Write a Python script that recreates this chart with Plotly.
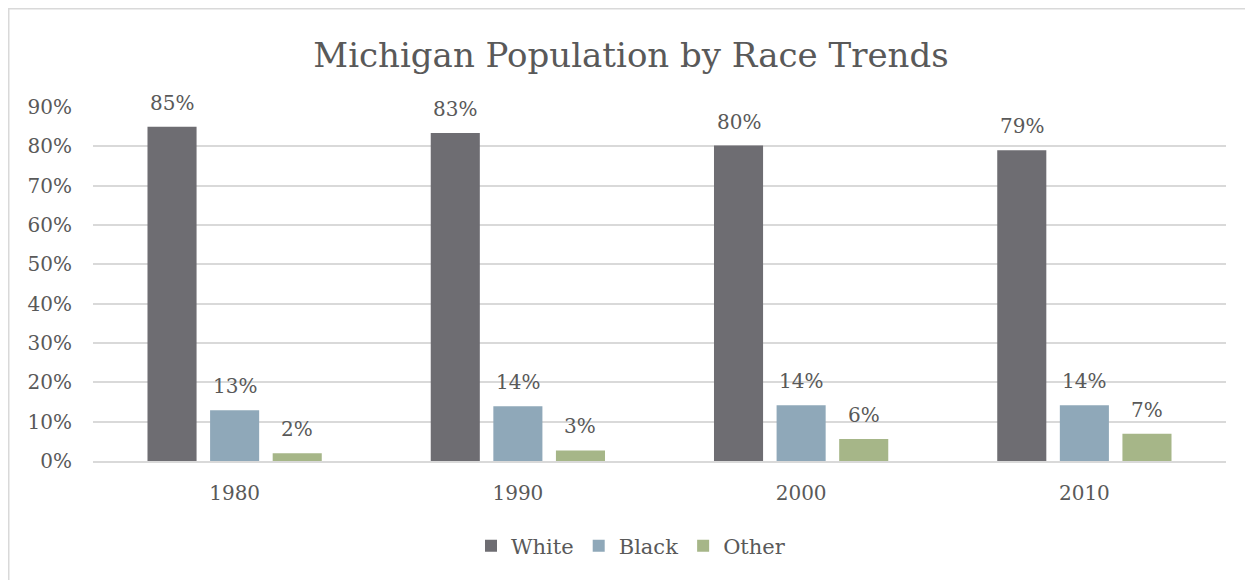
import plotly.graph_objects as go

years = ["1980", "1990", "2000", "2010"]
white = [0.850, 0.834, 0.802, 0.790]
black = [0.129, 0.139, 0.142, 0.142]
other = [0.020, 0.027, 0.056, 0.069]
series_names = ["White", "Black", "Other"]
colors = ["#6E6D72", "#8FA8B9", "#A6B688"]
ytick_vals = [0, 0.1, 0.2, 0.3, 0.4, 0.5, 0.6, 0.7, 0.8, 0.9]

FONT = "DejaVu Serif"
TXT = "#595959"

fig = go.Figure()
all_series = [white, black, other]
for name, vals, c in zip(series_names, all_series, colors):
    fig.add_trace(go.Bar(
        x=years, y=vals, name=name, marker=dict(color=c, line=dict(width=0)),
    ))

# data labels above bars (category index positions on the x axis)
shifts = [-62.5, 0, 62.5]
for vals, sh in zip(all_series, shifts):
    for i, v in enumerate(vals):
        fig.add_annotation(x=i, y=v, xref="x", yref="y", text=f"{round(v*100):d}%",
                           showarrow=False, xshift=sh, yshift=24, yanchor="middle",
                           font=dict(family=FONT, size=20, color=TXT))

fig.update_layout(
    width=1253, height=580,
    paper_bgcolor="white", plot_bgcolor="white",
    margin=dict(l=85, r=35, t=99, b=127),
    barmode="group", bargap=0.337, bargroupgap=0.216,
    title=dict(text="Michigan Population by Race Trends", x=(631 - 8) / 1253, xref="container",
               xanchor="center", y=1 - 47/580, yanchor="middle", yref="container",
               font=dict(family=FONT, size=34, color=TXT)),
    font=dict(family=FONT, color=TXT, size=20),
    showlegend=True,
    legend=dict(orientation="h", x=(631 - 8) / 1253, xref="container", xanchor="center",
                y=1 - 538/580, yref="container", yanchor="middle",
                font=dict(family=FONT, size=21, color=TXT), traceorder="normal",
                itemwidth=30),
    xaxis=dict(type="category", range=[-0.5, len(years) - 0.5], showline=True,
               linecolor="#D9D9D9", linewidth=1.5, ticks="",
               tickfont=dict(family=FONT, size=20, color=TXT), ticklabelstandoff=13),
    yaxis=dict(range=[0, 0.9], tickvals=ytick_vals, tickformat=".0%",
               showgrid=True, gridcolor="#D9D9D9", gridwidth=1.5, zeroline=False,
               tickfont=dict(family=FONT, size=20, color=TXT), ticklabelstandoff=20),
)
fig.add_shape(type="rect", xref="paper", yref="paper",
              x0=(0.75 - 85) / 1133, x1=1.2, y0=-0.6, y1=(99 - 0.75) / 354 + 1,
              line=dict(color="#D9D9D9", width=1.5), fillcolor="rgba(0,0,0,0)", layer="below")

fig.write_html("out.html")
